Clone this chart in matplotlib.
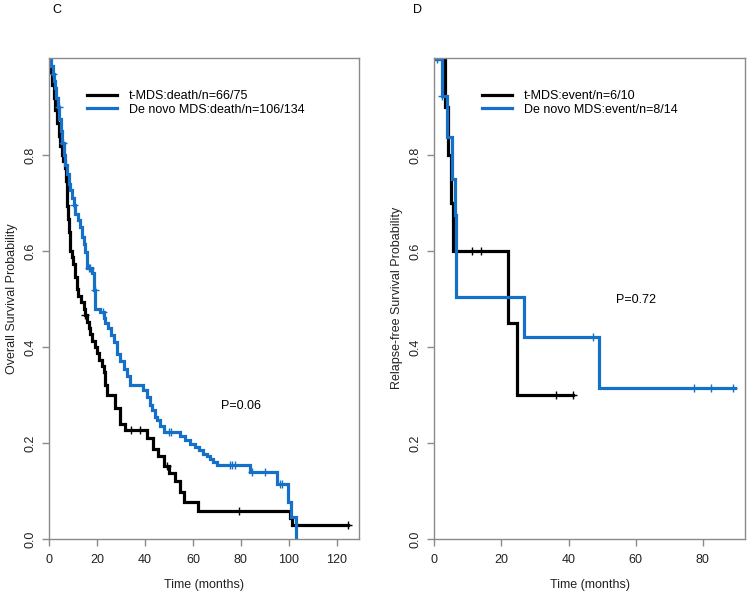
import numpy as np
import matplotlib
matplotlib.use("Agg")
import matplotlib.pyplot as plt

plt.rcParams['font.family'] = ['Liberation Sans', 'DejaVu Sans']

BLACK = "#000000"
BLUE = "#1570c8"
FRAME = "#8a8a8a"

# --- panel C: overall survival -------------------------------------------------
os_tmds_t = [0, 0.6, 1.2, 1.9, 2.6, 3.3, 4.0, 4.7, 5.4, 6.0,
             6.6, 7.1, 7.4, 7.7, 8.0, 8.3, 8.6, 8.9, 9.5, 10.1,
             10.7, 11.5, 12.3, 13.4, 14.4, 15.1, 15.8, 16.5, 17.2, 18.1,
             19.0, 20.0, 21.0, 22.0, 22.8, 23.5, 24.0, 27.6, 29.7, 31.8,
             41.0, 43.5, 45.5, 47.8, 50.0, 52.6, 54.5, 56.4, 62.0, 100.5,
             101.5]
os_tmds_s = [1.0, 0.973, 0.947, 0.92, 0.893, 0.867, 0.84, 0.82, 0.80, 0.787,
             0.773, 0.747, 0.72, 0.693, 0.667, 0.64, 0.613, 0.60, 0.587, 0.573,
             0.547, 0.52, 0.507, 0.493, 0.48, 0.467, 0.453, 0.44, 0.427, 0.413,
             0.40, 0.387, 0.373, 0.36, 0.347, 0.32, 0.30, 0.273, 0.24, 0.227,
             0.21, 0.187, 0.173, 0.153, 0.137, 0.12, 0.098, 0.077, 0.058, 0.043,
             0.029]
os_tmds_end = 124.8
os_tmds_cens = [15.1, 34.0, 38.0, 49.0, 79.3, 124.8]

os_denovo_t = [0, 0.8, 1.5, 2.0, 2.5, 3.0, 3.6, 4.2, 5.0, 5.5,
               6.1, 6.8, 7.5, 8.2, 8.9, 9.6, 10.3, 11.0, 12.3, 13.0,
               13.7, 14.4, 15.1, 15.8, 17.9, 18.6, 19.3, 21.4, 22.8, 23.5,
               24.8, 25.8, 26.9, 28.3, 29.5, 31.1, 32.5, 33.9, 39.4, 40.8,
               42.0, 42.9, 44.0, 45.0, 46.4, 47.8, 54.7, 56.8, 59.0, 61.0,
               62.5, 64.4, 66.0, 67.2, 68.5, 70.0, 84.0, 95.0, 99.6, 101.0,
               102.9]
os_denovo_s = [1.0, 0.985, 0.97, 0.955, 0.94, 0.92, 0.90, 0.875, 0.85, 0.825,
               0.80, 0.78, 0.76, 0.74, 0.727, 0.71, 0.695, 0.678, 0.665, 0.65,
               0.63, 0.615, 0.598, 0.565, 0.555, 0.518, 0.48, 0.473, 0.46, 0.45,
               0.44, 0.425, 0.41, 0.385, 0.37, 0.355, 0.34, 0.32, 0.31, 0.296,
               0.28, 0.268, 0.255, 0.247, 0.236, 0.223, 0.215, 0.206, 0.199, 0.192,
               0.185, 0.178, 0.172, 0.167, 0.16, 0.154, 0.14, 0.115, 0.077, 0.046,
               0.0]
os_denovo_end = 102.9
os_denovo_cens = [1.8, 4.0, 5.8, 10.3, 16.5, 17.2, 19.0, 22.5, 50.0, 51.0,
                  75.5, 76.5, 77.6, 84.5, 90.0, 96.4, 97.0]

# --- panel D: relapse-free survival --------------------------------------------
rfs_tmds_t = [0, 3.2, 4.2, 4.9, 5.7, 22.1, 24.6]
rfs_tmds_s = [1.0, 0.9, 0.8, 0.7, 0.6, 0.45, 0.30]
rfs_tmds_end = 41.4
rfs_tmds_cens = [11.1, 13.8, 36.3, 41.4]

rfs_denovo_t = [0, 2.2, 3.9, 5.2, 6.2, 6.5, 26.8, 49.2]
rfs_denovo_s = [1.0, 0.924, 0.838, 0.751, 0.675, 0.505, 0.421, 0.315]
rfs_denovo_end = 89.6
rfs_denovo_cens = [0.8, 2.4, 47.2, 77.4, 82.5, 89.1]


def surv_at(times, surv, t):
    idx = np.searchsorted(np.asarray(times), t, side="right") - 1
    return np.asarray(surv)[idx]


def km_curve(ax, times, surv, end, cens, color, label):
    x = np.append(times, end)
    y = np.append(surv, surv[-1])
    ax.step(x, y, where="post", color=color, lw=2.3, label=label,
            solid_joinstyle="miter")
    ax.plot(cens, surv_at(times, surv, cens), ls="none", marker="+",
            ms=6, mew=1.0, color=color)


def style(ax, xmax, xticks, ylabel):
    ax.set_xlim(0, xmax)
    ax.set_ylim(0, 1.003)
    ax.set_xticks(xticks)
    ax.set_yticks([0.0, 0.2, 0.4, 0.6, 0.8])
    ax.set_yticklabels(["0.0", "0.2", "0.4", "0.6", "0.8"], rotation=90,
                       va="center")
    for sp in ax.spines.values():
        sp.set_color(FRAME)
        sp.set_linewidth(1.0)
    ax.tick_params(axis="both", colors=FRAME, labelcolor="#222222",
                   length=5, width=1.0, labelsize=9)
    ax.tick_params(axis="x", pad=6)
    ax.tick_params(axis="y", pad=4)
    ax.set_xlabel("Time (months)", fontsize=9, color="#222222", labelpad=9)
    ax.set_ylabel(ylabel, fontsize=9, color="#222222", labelpad=5)


fig = plt.figure(figsize=(7.5, 5.95), dpi=100)
axC = fig.add_axes([49 / 750, 1 - 539 / 595, 310.3 / 750, 481.3 / 595])
axD = fig.add_axes([434.3 / 750, 1 - 539 / 595, 310.7 / 750, 481.3 / 595])

km_curve(axC, os_tmds_t, os_tmds_s, os_tmds_end, os_tmds_cens, BLACK,
         "t-MDS:death/n=66/75")
km_curve(axC, os_denovo_t, os_denovo_s, os_denovo_end, os_denovo_cens, BLUE,
         "De novo MDS:death/n=106/134")
style(axC, 129.4, [0, 20, 40, 60, 80, 100, 120], "Overall Survival Probability")
axC.text(80, 0.277, "P=0.06", fontsize=9, ha="center", va="center")

km_curve(axD, rfs_tmds_t, rfs_tmds_s, rfs_tmds_end, rfs_tmds_cens, BLACK,
         "t-MDS:event/n=6/10")
km_curve(axD, rfs_denovo_t, rfs_denovo_s, rfs_denovo_end, rfs_denovo_cens, BLUE,
         "De novo MDS:event/n=8/14")
style(axD, 92.6, [0, 20, 40, 60, 80], "Relapse-free Survival Probability")
axD.text(60.2, 0.498, "P=0.72", fontsize=9, ha="center", va="center")

for ax, x0 in ((axC, 0.1215), (axD, 0.1526)):
    ax.legend(loc="upper left", bbox_to_anchor=(x0, 0.933), frameon=False,
              fontsize=9, handlelength=2.4, handletextpad=1.0,
              labelspacing=0.14, borderpad=0, borderaxespad=0)

fig.text(57 / 750, 1 - 10 / 595, "C", fontsize=9, ha="center", va="center")
fig.text(418 / 750, 1 - 10 / 595, "D", fontsize=9, ha="center", va="center")

fig.savefig("out.png", dpi=100)
